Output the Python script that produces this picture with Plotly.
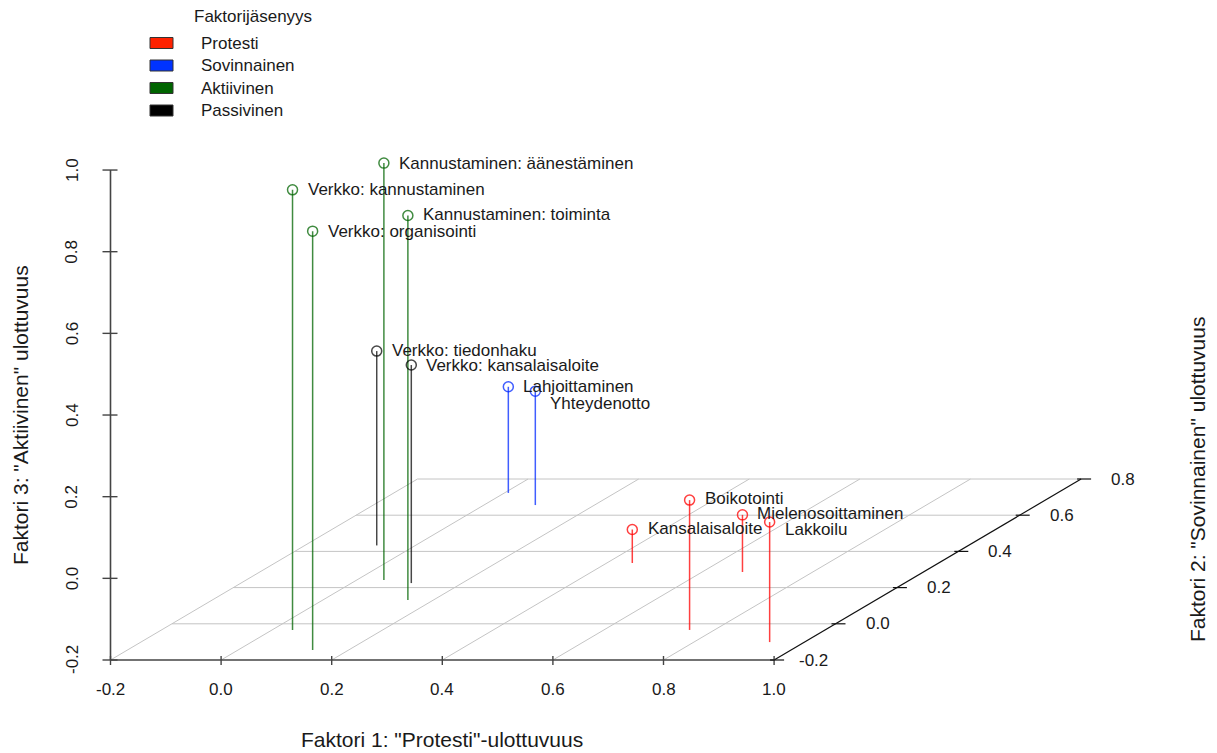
import plotly.graph_objects as go

# ---------------- data ----------------
labels = ["Kannustaminen: äänestäminen", "Verkko: kannustaminen", "Kannustaminen: toiminta",
          "Verkko: organisointi", "Verkko: tiedonhaku", "Verkko: kansalaisaloite",
          "Lahjoittaminen", "Yhteydenotto", "Boikotointi", "Mielenosoittaminen",
          "Lakkoilu", "Kansalaisaloite"]
faktori1 = [0.049, 0.037, 0.154, 0.135, -0.070, 0.108, 0.007, 0.093, 0.755, 0.673, 0.937, 0.446]
faktori2 = [0.242, -0.034, 0.131, -0.145, 0.433, 0.225, 0.723, 0.656, -0.034, 0.286, -0.101, 0.336]
faktori3 = [0.821, 0.878, 0.742, 0.826, 0.276, 0.334, 0.060, 0.079, 0.118, -0.060, 0.094, -0.118]
ryhma = ["Aktiivinen", "Aktiivinen", "Aktiivinen", "Aktiivinen", "Passivinen", "Passivinen",
         "Sovinnainen", "Sovinnainen", "Protesti", "Protesti", "Protesti", "Protesti"]

legend_groups = ["Protesti", "Sovinnainen", "Aktiivinen", "Passivinen"]
x_ticks = [-0.2, 0.0, 0.2, 0.4, 0.6, 0.8, 1.0]
y_ticks = [-0.2, 0.0, 0.2, 0.4, 0.6, 0.8]
z_ticks = [-0.2, 0.0, 0.2, 0.4, 0.6, 0.8, 1.0]
tick_text = lambda v: f"{v:.1f}"

# ---------------- style ----------------
W, H = 1217, 753
FONT = "Liberation Sans, Arial, Helvetica, sans-serif"
TXT = "#1a1a1a"
FS = 17
FS_TITLE = 21
point_col = {"Protesti": "rgba(255,0,0,0.75)", "Sovinnainen": "rgba(0,40,255,0.75)",
             "Aktiivinen": "rgba(0,100,0,0.75)", "Passivinen": "rgba(0,0,0,0.72)"}
legend_col = {"Protesti": "#ff2200", "Sovinnainen": "#0033ff",
              "Aktiivinen": "#006400", "Passivinen": "#000000"}
# label offsets in pixels (right, down)
lab_dx = [13, 13, 13, 13, 13, 13, 13, 13, 13, 13, 13, 14]
lab_dy = [0, 0, -1, 0, -1, 0, 0, 12, -2, -1, 7, -1]

XMIN, XMAX = x_ticks[0], x_ticks[-1]
YMIN, YMAX = y_ticks[0], y_ticks[-1]
ZMIN, ZMAX = z_ticks[0], z_ticks[-1]

# oblique projection (scatterplot3d style) onto page pixels
X0, Y0 = 110.5, 660.0
SX, SZ = 553.0, 408.3
YX, YY = 307.0, 181.0


def proj(x, y, z):
    px = X0 + (x - XMIN) * SX + (y - YMIN) * YX
    py = Y0 - (z - ZMIN) * SZ - (y - YMIN) * YY
    return px, py


fig = go.Figure()


def add_segments(segs, color, width):
    xs, ys = [], []
    for (a, b) in segs:
        xs += [a[0], b[0], None]
        ys += [a[1], b[1], None]
    fig.add_trace(go.Scatter(x=xs, y=ys, mode="lines", line=dict(color=color, width=width),
                             hoverinfo="skip", showlegend=False))


# grid on the base plane
grid = []
for xt in x_ticks[:-1]:
    grid.append((proj(xt, YMIN, ZMIN), proj(xt, YMAX, ZMIN)))
for yt in y_ticks[1:]:
    grid.append((proj(XMIN, yt, ZMIN), proj(XMAX, yt, ZMIN)))
add_segments(grid, "#c4c4c4", 1)

# axes
add_segments([(proj(XMIN, YMIN, ZMIN), proj(XMAX, YMIN, ZMIN)),
              (proj(XMIN, YMIN, ZMIN), proj(XMIN, YMIN, ZMAX))], "#444444", 1.6)
add_segments([(proj(XMAX, YMIN, ZMIN), proj(XMAX, YMAX, ZMIN))], "#111111", 1.2)

# ticks
ticks_xz = []
for xt in x_ticks:
    px, py = proj(xt, YMIN, ZMIN)
    ticks_xz.append(((px, py - 4), (px, py + 5)))
for zt in z_ticks:
    px, py = proj(XMIN, YMIN, zt)
    ticks_xz.append(((px - 8, py), (px + 7, py)))
add_segments(ticks_xz, "#444444", 1.4)
ticks_y = []
for yt in y_ticks:
    px, py = proj(XMAX, yt, ZMIN)
    ticks_y.append(((px - 4, py), (px + 10, py)))
add_segments(ticks_y, "#111111", 1.2)

# stems and points per group
for g in legend_groups:
    idx = [i for i, r in enumerate(ryhma) if r == g]
    stems = [(proj(faktori1[i], faktori2[i], ZMIN), proj(faktori1[i], faktori2[i], faktori3[i]))
             for i in idx]
    add_segments(stems, point_col[g], 1.5)
for g in legend_groups:
    idx = [i for i, r in enumerate(ryhma) if r == g]
    pts = [proj(faktori1[i], faktori2[i], faktori3[i]) for i in idx]
    fig.add_trace(go.Scatter(x=[p[0] for p in pts], y=[p[1] for p in pts], mode="markers",
                             marker=dict(symbol="circle-open", size=10, color=point_col[g],
                                         line=dict(width=1.5, color=point_col[g])),
                             text=[labels[i] for i in idx], hoverinfo="text", showlegend=False))

ann = []
# point labels
for i, lab in enumerate(labels):
    px, py = proj(faktori1[i], faktori2[i], faktori3[i])
    ann.append(dict(x=px, y=py, text=lab, showarrow=False, xanchor="left", yanchor="middle",
                    xshift=lab_dx[i], yshift=-lab_dy[i], font=dict(size=FS, color=TXT)))

# tick labels
for xt in x_ticks:
    px, py = proj(xt, YMIN, ZMIN)
    ann.append(dict(x=px, y=689, text=tick_text(xt), showarrow=False, xanchor="center",
                    yanchor="middle", font=dict(size=FS, color=TXT)))
for zt in z_ticks:
    px, py = proj(XMIN, YMIN, zt)
    ann.append(dict(x=72, y=py, text=tick_text(zt), showarrow=False, textangle=-90,
                    xanchor="center", yanchor="middle", font=dict(size=FS, color=TXT)))
for yt in y_ticks:
    px, py = proj(XMAX, yt, ZMIN)
    ann.append(dict(x=px + 56, y=py, text=tick_text(yt), showarrow=False, xanchor="right",
                    yanchor="middle", font=dict(size=FS, color=TXT)))

# axis titles
ann.append(dict(x=442, y=739, text='Faktori 1: "Protesti"-ulottuvuus', showarrow=False,
                xanchor="center", yanchor="middle", font=dict(size=FS_TITLE, color=TXT)))
ann.append(dict(x=20, y=415, text='Faktori 3: "Aktiivinen" ulottuvuus', showarrow=False,
                textangle=-90, xanchor="center", yanchor="middle",
                font=dict(size=FS_TITLE, color=TXT)))
ann.append(dict(x=1197, y=480, text='Faktori 2: "Sovinnainen" ulottuvuus', showarrow=False,
                textangle=-90, xanchor="center", yanchor="middle",
                font=dict(size=FS_TITLE, color=TXT)))

# custom legend
shapes = []
ann.append(dict(x=192, y=16, text="Faktorijäsenyys", showarrow=False, xanchor="left",
                yanchor="middle", font=dict(size=FS, color=TXT)))
for k, g in enumerate(legend_groups):
    yc = 43 + k * 22.5
    shapes.append(dict(type="rect", xref="x", yref="y", x0=150, x1=173, y0=yc - 5.5, y1=yc + 5.5,
                       fillcolor=legend_col[g], line=dict(color="#333333", width=1)))
    ann.append(dict(x=199, y=yc, text=g, showarrow=False, xanchor="left", yanchor="middle",
                    font=dict(size=FS, color=TXT)))

fig.update_layout(
    width=W, height=H, autosize=False,
    margin=dict(l=0, r=0, t=0, b=0),
    paper_bgcolor="white", plot_bgcolor="white",
    font=dict(family=FONT, color=TXT),
    xaxis=dict(range=[0, W], visible=False, fixedrange=True),
    yaxis=dict(range=[H, 0], visible=False, fixedrange=True),
    annotations=ann, shapes=shapes, showlegend=False,
)

fig.write_html("out.html", config={"displayModeBar": False},
               post_script="document.body.style.margin='0';document.body.style.overflow='hidden';")
